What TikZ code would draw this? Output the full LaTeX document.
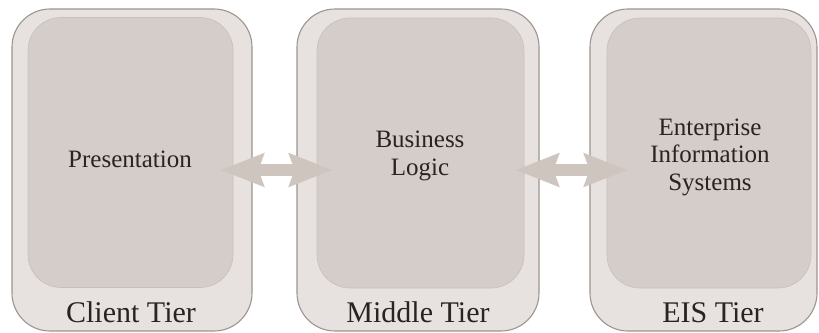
\documentclass[tikz,border=0pt]{standalone}
\usepackage{fontspec}
\setmainfont{Liberation Serif}
\usetikzlibrary{arrows.meta}

\definecolor{tierfill}{HTML}{E7E2DF}
\definecolor{tierline}{HTML}{9E9590}
\definecolor{corefill}{HTML}{D5CDC9}
\definecolor{coreline}{HTML}{C8BFBA}
\definecolor{linkfill}{HTML}{CFC5BF}
\definecolor{inktext}{HTML}{2B2222}

\tikzset{
  tier/.style={draw=tierline, line width=1.1pt, fill=tierfill,
    rounded corners=38pt, minimum height=322pt, inner sep=0pt},
  core/.style={draw=coreline, line width=0.6pt, fill=corefill,
    rounded corners=33pt, minimum height=270pt, inner sep=0pt},
  coretext/.style={text=inktext, align=center, inner sep=0pt,
    font=\fontsize{25}{27.5}\selectfont},
  tiertext/.style={text=inktext, inner sep=0pt, anchor=base,
    font=\fontsize{30}{33}\selectfont},
  link/.style={draw=linkfill, line width=12pt,
    {Stealth[length=43pt, width=32pt, inset=5pt, fill=linkfill]}-{Stealth[length=43pt, width=32pt, inset=5pt, fill=linkfill]}}
}

\begin{document}
\begin{tikzpicture}[x=1pt, y=-1pt]
  \useasboundingbox (0,0) rectangle (819,332);
  \fill[white] (0,0) rectangle (819,332);

  % outer tier frames
  \node[tier, minimum width=240pt] (cout) at (132,170) {};
  \node[tier, minimum width=242pt] (mout) at (418,170) {};
  \node[tier, minimum width=227pt] (eout) at (703.5,170) {};

  % inner component panels
  \node[core, minimum width=205pt] (cin) at (130.5,152.5) {};
  \node[core, minimum width=207pt] (min) at (420.5,153) {};
  \node[core, minimum width=204pt] (ein) at (709,153) {};

  % two-way links between tiers
  \draw[link] ([xshift=-13pt]cin.east |- cout.center) -- ([xshift=16pt]min.west |- cout.center);
  \draw[link] ([xshift=-9pt]min.east |- mout.center) -- ([xshift=21pt]ein.west |- mout.center);

  % component names
  \node[coretext, anchor=base] (pres) at (130,167) {Presentation};
  \node[coretext] (biz) at (420,156) {Business\\Logic};
  \node[coretext] (eis) at (710,157) {Enterprise\\Information\\Systems};

  % tier names
  \node[tiertext] (clab) at (131,322) {Client Tier};
  \node[tiertext] (mlab) at (418,322) {Middle Tier};
  \node[tiertext] (elab) at (713,322) {EIS Tier};
\end{tikzpicture}
\end{document}
